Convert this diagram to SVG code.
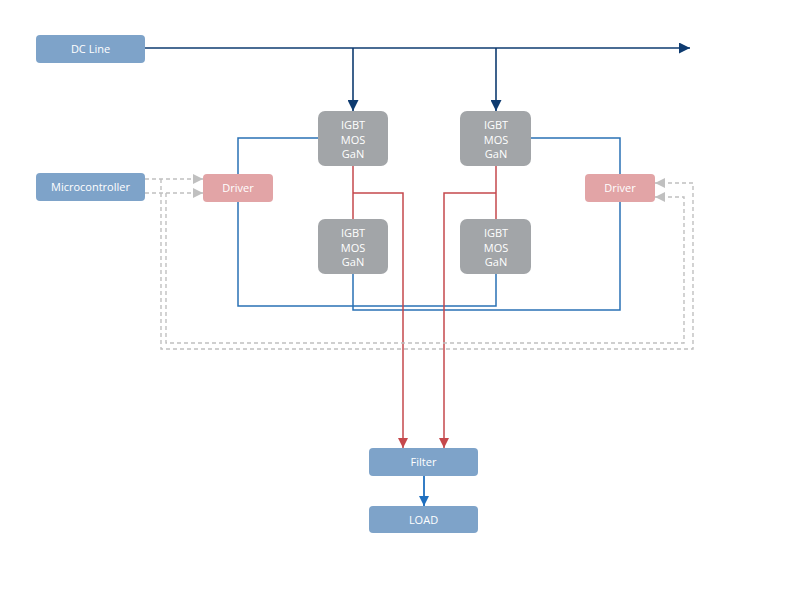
<svg xmlns="http://www.w3.org/2000/svg" width="800" height="593" viewBox="0 0 800 593">
<style>
.txt{font-family:"Open Sans","Liberation Sans",sans-serif;font-size:11px;fill:#ffffff;text-anchor:middle}
.blue{fill:#7ea3c9}
.gray{fill:#a2a5a8}
.pink{fill:#e2a4a6}
.navy{stroke:#0e3b70;stroke-width:1.6;fill:none}
.bl{stroke:#2a72b5;stroke-width:1.5;fill:none}
.red{stroke:#c5484c;stroke-width:1.5;fill:none}
.dash{stroke:#c0c0c0;stroke-width:1.4;fill:none;stroke-dasharray:4,3}
</style>
<defs>
<marker id="aNavy" viewBox="0 0 10 10" refX="10" refY="5" markerWidth="11" markerHeight="11" markerUnits="userSpaceOnUse" orient="auto"><path d="M0,0 L10,5 L0,10 z" fill="#0e3b70"/></marker>
<marker id="aRed" viewBox="0 0 10 10" refX="10" refY="5" markerWidth="10" markerHeight="10" markerUnits="userSpaceOnUse" orient="auto"><path d="M0,0 L10,5 L0,10 z" fill="#c5484c"/></marker>
<marker id="aBlue" viewBox="0 0 10 10" refX="10" refY="5" markerWidth="10" markerHeight="10" markerUnits="userSpaceOnUse" orient="auto"><path d="M0,0 L10,5 L0,10 z" fill="#1f6fbf"/></marker>
<marker id="aGray" viewBox="0 0 10 10" refX="10" refY="5" markerWidth="10" markerHeight="10" markerUnits="userSpaceOnUse" orient="auto"><path d="M0,0 L10,5 L0,10 z" fill="#c0c0c0"/></marker>
</defs>
<rect width="800" height="593" fill="#ffffff"/>
<g id="connectors">
<path class="navy" d="M145,48 H690" marker-end="url(#aNavy)"/>
<path class="navy" d="M353,48 V111" marker-end="url(#aNavy)"/>
<path class="navy" d="M496,48 V111" marker-end="url(#aNavy)"/>
<path class="bl" d="M318,138 H238 V174"/>
<path class="bl" d="M238,202 V306 H496 V274"/>
<path class="bl" d="M353,274 V310 H620 V202"/>
<path class="bl" d="M531,138 H620 V174"/>
<path class="red" d="M353,166 V219"/>
<path class="red" d="M353,193 H403 V448" marker-end="url(#aRed)"/>
<path class="red" d="M496,166 V219"/>
<path class="red" d="M496,193 H444 V448" marker-end="url(#aRed)"/>
<path d="M424,476 V506" stroke="#1f6fbf" stroke-width="1.8" fill="none" marker-end="url(#aBlue)"/>
<path class="dash" d="M145,179 H203" marker-end="url(#aGray)"/>
<path class="dash" d="M145,193 H203" marker-end="url(#aGray)"/>
<path class="dash" d="M161,179 V349 H693 V183 H655" marker-end="url(#aGray)"/>
<path class="dash" d="M166,193 V343 H684 V197 H655" marker-end="url(#aGray)"/>
</g>
<g id="dcline"><rect class="blue" x="36" y="35" width="109" height="28" rx="4"/><text class="txt" x="90.5" y="53">DC Line</text></g>
<g id="micro"><rect class="blue" x="36" y="173" width="109" height="28" rx="4"/><text class="txt" x="90.5" y="191">Microcontroller</text></g>
<g id="driverL"><rect class="pink" x="203" y="174" width="70" height="28" rx="4"/><text class="txt" x="238" y="192">Driver</text></g>
<g id="driverR"><rect class="pink" x="585" y="174" width="70" height="28" rx="4"/><text class="txt" x="620" y="192">Driver</text></g>
<g id="sw1"><rect class="gray" x="318" y="111" width="70" height="55" rx="7"/><text class="txt" x="353" y="129">IGBT</text><text class="txt" x="353" y="143.5">MOS</text><text class="txt" x="353" y="158">GaN</text></g>
<g id="sw2"><rect class="gray" x="460" y="111" width="71" height="55" rx="7"/><text class="txt" x="496" y="129">IGBT</text><text class="txt" x="496" y="143.5">MOS</text><text class="txt" x="496" y="158">GaN</text></g>
<g id="sw3"><rect class="gray" x="318" y="219" width="70" height="55" rx="7"/><text class="txt" x="353" y="237">IGBT</text><text class="txt" x="353" y="251.5">MOS</text><text class="txt" x="353" y="266">GaN</text></g>
<g id="sw4"><rect class="gray" x="460" y="219" width="71" height="55" rx="7"/><text class="txt" x="496" y="237">IGBT</text><text class="txt" x="496" y="251.5">MOS</text><text class="txt" x="496" y="266">GaN</text></g>
<g id="filter"><rect class="blue" x="369" y="448" width="109" height="28" rx="4"/><text class="txt" x="423.5" y="466">Filter</text></g>
<g id="load"><rect class="blue" x="369" y="506" width="109" height="27" rx="4"/><text class="txt" x="423.5" y="523.5">LOAD</text></g>
</svg>
